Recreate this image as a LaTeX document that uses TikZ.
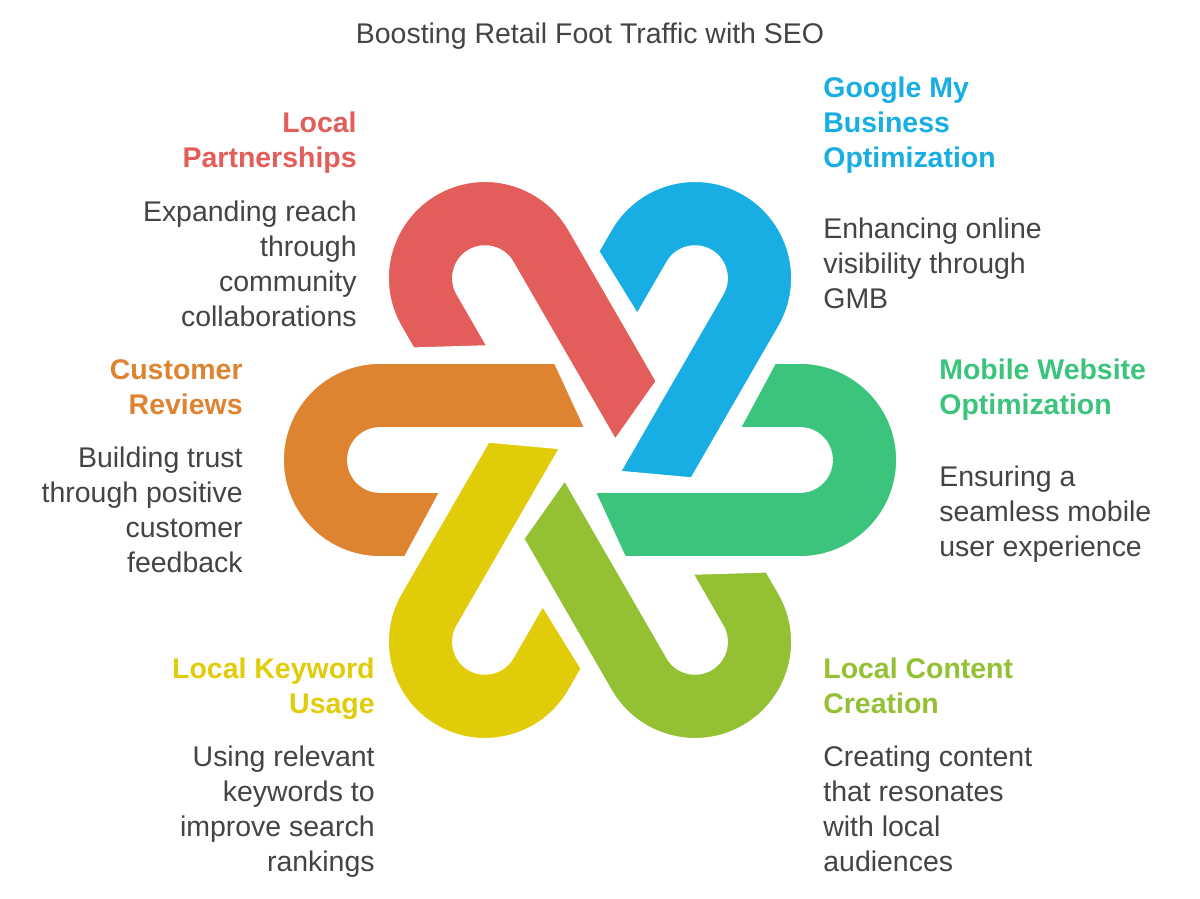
\documentclass[tikz,border=0pt]{standalone}
\usepackage{fontspec}
\setmainfont{Liberation Sans}
\definecolor{cred}{HTML}{E35D5B}
\definecolor{cblue}{HTML}{19AEE3}
\definecolor{cgreen}{HTML}{3CC47C}
\definecolor{clime}{HTML}{93C133}
\definecolor{cyellow}{HTML}{E1CC0A}
\definecolor{corange}{HTML}{DE8431}
\definecolor{ctext}{HTML}{444444}
\tikzset{
  petal/.pic={
    \path[pic actions] (175,97) -- (0,97) arc[start angle=90,end angle=270,radius=97]
      -- (25,-97) -- (60,-32) -- (0,-32) arc[start angle=270,end angle=90,radius=32]
      -- (205,32) -- cycle;
  },
  head/.style={font=\fontsize{16.2}{19.8}\selectfont\bfseries, inner sep=0pt},
  body/.style={font=\fontsize{16.2}{19.8}\selectfont, text=ctext, inner sep=0pt}
}
\begin{document}
\begin{tikzpicture}[x=0.02cm,y=0.02cm]
\useasboundingbox (0,0) rectangle (1200,899);
\fill[white] (0,0) rectangle (1200,899);
\node[body, anchor=center] (title) at (590,863) {Boosting Retail Foot Traffic with SEO};
\foreach \a/\c in {180/corange,120/cred,60/cblue,0/cgreen,300/clime,240/cyellow}{
  \pic[fill=\c, draw=white, line width=1pt] at ({590+210*cos(\a)},{439+210*sin(\a)}) [rotate=\a-180] {petal};
}
\node[head, text=cred, align=right, anchor=north east] (h1) at (357,787) {Local\\Partnerships};
\node[body, align=right, anchor=north east] (b1) at (357,698) {Expanding reach\\through\\community\\collaborations};
\node[head, text=cblue, align=left, anchor=north west] (h2) at (823,822) {Google My\\Business\\Optimization};
\node[body, align=left, anchor=north west] (b2) at (823,681) {Enhancing online\\visibility through\\GMB};
\node[head, text=cgreen, align=left, anchor=north west] (h3) at (939,540) {Mobile Website\\Optimization};
\node[body, align=left, anchor=north west] (b3) at (939,433) {Ensuring a\\seamless mobile\\user experience};
\node[head, text=corange, align=right, anchor=north east] (h4) at (243,540) {Customer\\Reviews};
\node[body, align=right, anchor=north east] (b4) at (243,452) {Building trust\\through positive\\customer\\feedback};
\node[head, text=cyellow, align=right, anchor=north east] (h5) at (375,241) {Local Keyword\\Usage};
\node[body, align=right, anchor=north east] (b5) at (375,153) {Using relevant\\keywords to\\improve search\\rankings};
\node[head, text=clime, align=left, anchor=north west] (h6) at (823,241) {Local Content\\Creation};
\node[body, align=left, anchor=north west] (b6) at (823,153) {Creating content\\that resonates\\with local\\audiences};
\end{tikzpicture}
\end{document}
